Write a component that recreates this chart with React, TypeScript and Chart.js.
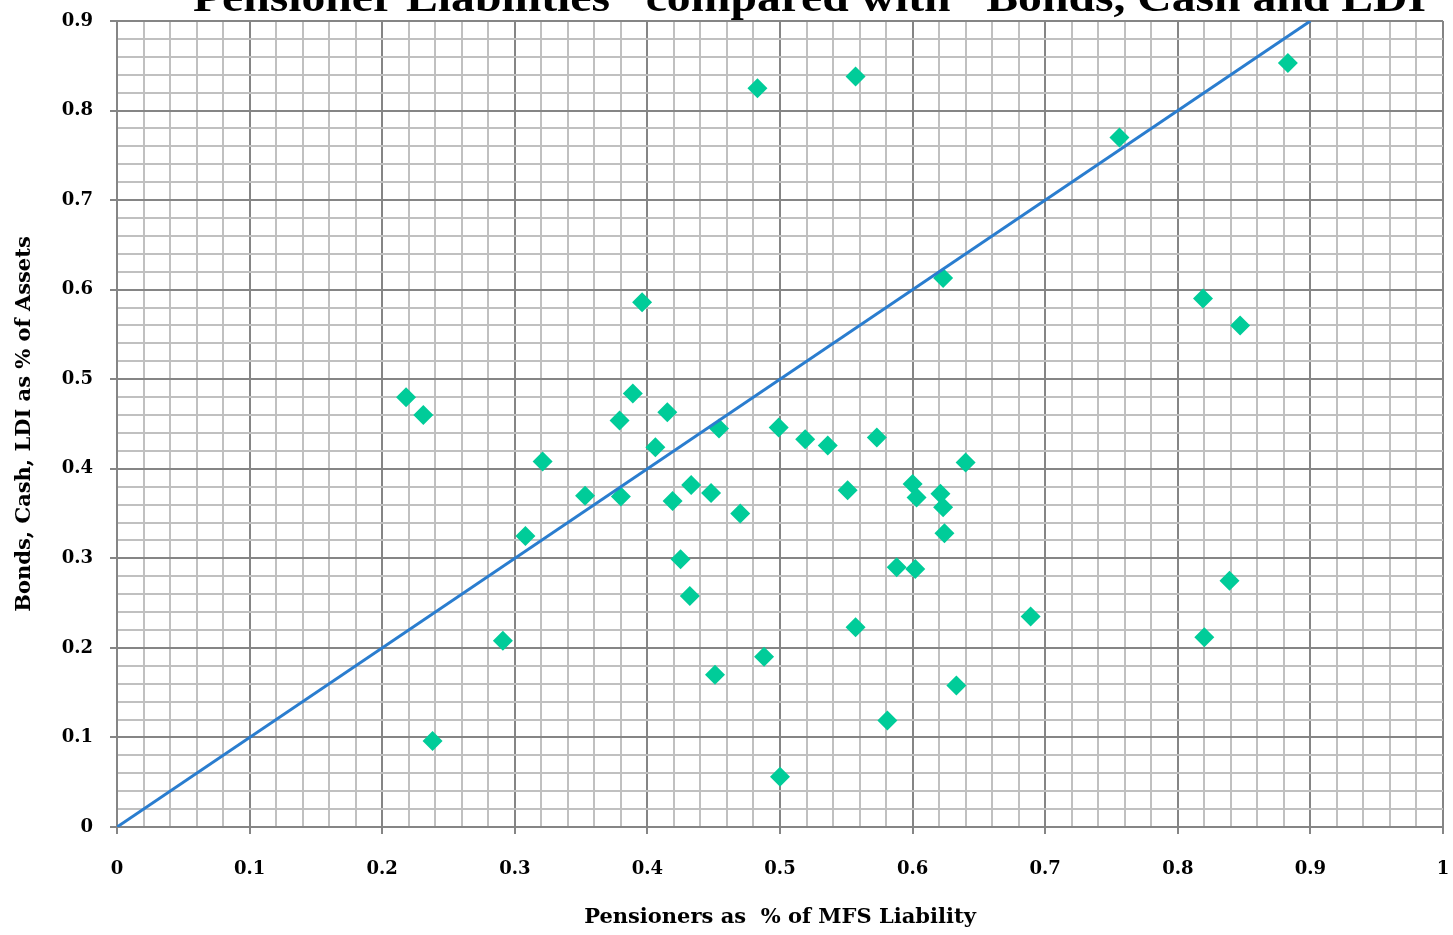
import React, { useEffect, useRef } from "react";
import { Chart, registerables } from "chart.js";

Chart.register(...registerables);

const titleText = "\u201CPensioner Liabilities\u201D compared with \u201CBonds, Cash and LDI\u201D";
const titleVisible = "Pensioner Liabilities\u201D compared with \u201CBonds, Cash and LDI";
const xAxisTitle = "Pensioners as  % of MFS Liability";
const yAxisTitle = "Bonds, Cash, LDI as % of Assets";

const pensionersPct = [
  0.483, 0.557, 0.883, 0.756, 0.396, 0.623, 0.819, 0.847, 0.218, 0.231,
  0.389, 0.379, 0.415, 0.406, 0.454, 0.499, 0.519, 0.536, 0.573, 0.321,
  0.353, 0.380, 0.433, 0.419, 0.448, 0.470, 0.551, 0.600, 0.603, 0.621,
  0.623, 0.640, 0.624, 0.308, 0.425, 0.588, 0.602, 0.432, 0.839, 0.689,
  0.557, 0.291, 0.820, 0.488, 0.451, 0.633, 0.581, 0.238, 0.500,
];
const bondsCashLdiPct = [
  0.825, 0.838, 0.853, 0.770, 0.586, 0.613, 0.590, 0.560, 0.480, 0.460,
  0.484, 0.454, 0.463, 0.424, 0.445, 0.446, 0.433, 0.426, 0.435, 0.408,
  0.370, 0.369, 0.382, 0.364, 0.373, 0.350, 0.376, 0.383, 0.368, 0.372,
  0.357, 0.407, 0.328, 0.325, 0.299, 0.290, 0.288, 0.258, 0.275, 0.235,
  0.223, 0.208, 0.212, 0.190, 0.170, 0.158, 0.119, 0.096, 0.056,
];
const lineX = [0, 0.9];
const lineY = [0, 0.9];

const isMajor = (v: number) => Math.abs(v * 10 - Math.round(v * 10)) < 1e-6;
const fmt = (v: number) => {
  const r = Math.round(v * 10) / 10;
  return r === 0 ? "0" : r === 1 ? "1" : r.toFixed(1);
};

const MAJOR = "#858585";
const MINOR = "#c0c0c0";
const SERIF = "'Liberation Serif', 'Times New Roman', serif";
const WIDE_SERIF = "'DejaVu Serif', serif";

export default function App() {
  const ref = useRef<HTMLCanvasElement | null>(null);
  useEffect(() => {
    document.body.style.margin = "0";
    const canvas = ref.current;
    if (!canvas) return;
    const titlePlugin = {
      id: "topTitle",
      afterDraw(chart: any) {
        const ctx = chart.ctx;
        ctx.save();
        ctx.font = `bold 40px ${SERIF}`;
        ctx.fillStyle = "#000";
        ctx.textAlign = "left";
        ctx.textBaseline = "alphabetic";
        const q = ctx.measureText("\u201C").width;
        const w = ctx.measureText(titleVisible).width;
        const sx = 1233 / w;
        ctx.translate(193, 11);
        ctx.scale(sx, 1);
        ctx.fillText(titleText, -q, 0);
        ctx.restore();
      },
    };
    const gridOpts = {
      color: (c: any) => (c.tick && isMajor(c.tick.value) ? MAJOR : MINOR),
      lineWidth: 2,
      tickColor: (c: any) => (c.tick && isMajor(c.tick.value) ? MAJOR : "rgba(0,0,0,0)"),
      tickLength: 7,
      drawTicks: true,
    };
    const tickFont = { family: WIDE_SERIF, size: 18, weight: "bold" as const };
    const zeroPad = (s: any) => {
      s.paddingLeft = 0;
      s.paddingRight = 0;
      s.paddingTop = 0;
      s.paddingBottom = 0;
    };
    const chart = new Chart(canvas, {
      type: "scatter",
      data: {
        datasets: [
          {
            type: "line",
            data: lineX.map((x, i) => ({ x, y: lineY[i] })),
            borderColor: "#2a7dcf",
            borderWidth: 3,
            pointRadius: 0,
            fill: false,
            order: 0,
          } as any,
          {
            type: "scatter",
            data: pensionersPct.map((x, i) => ({ x, y: bondsCashLdiPct[i] })),
            pointStyle: "rectRot",
            pointRadius: 10,
            backgroundColor: "#00cc99",
            borderColor: "#00cc99",
            borderWidth: 0,
            order: 1,
          },
        ],
      },
      options: {
        animation: false,
        responsive: false,
        devicePixelRatio: 1,
        layout: { padding: { top: 21, right: 10, left: 0, bottom: 0 } },
        plugins: { legend: { display: false }, tooltip: { enabled: false }, title: { display: false } },
        scales: {
          x: {
            type: "linear",
            min: 0,
            max: 1,
            grid: gridOpts as any,
            border: { display: true, color: MAJOR, width: 2 },
            ticks: {
              stepSize: 0.02,
              maxTicksLimit: 1000,
              autoSkip: false,
              maxRotation: 0,
              padding: 25,
              color: "#000",
              font: tickFont,
              callback: (v: any) => (isMajor(Number(v)) ? fmt(Number(v)) : ""),
            },
            title: {
              display: true,
              text: xAxisTitle,
              color: "#000",
              font: { family: WIDE_SERIF, size: 21, weight: "bold" },
              padding: { top: 0, bottom: 5 },
            },
            afterFit: (s: any) => {
              s.height = 108;
              zeroPad(s);
            },
          },
          y: {
            type: "linear",
            min: 0,
            max: 0.9,
            grid: gridOpts as any,
            border: { display: true, color: MAJOR, width: 2 },
            ticks: {
              stepSize: 0.02,
              maxTicksLimit: 1000,
              autoSkip: false,
              padding: 17,
              color: "#000",
              font: tickFont,
              callback: (v: any) => (isMajor(Number(v)) ? fmt(Number(v)) : ""),
            },
            title: {
              display: true,
              text: yAxisTitle,
              color: "#000",
              font: { family: WIDE_SERIF, size: 21, weight: "bold" },
              padding: { top: 12, bottom: 0 },
            },
            afterFit: (s: any) => {
              s.width = 117;
              zeroPad(s);
            },
          },
        },
      },
      plugins: [titlePlugin],
    });
    return () => chart.destroy();
  }, []);
  return (
    <div style={{ position: "fixed", left: 0, top: 0, width: 1453, height: 935, background: "#fff" }}>
      <canvas ref={ref} width={1453} height={935} style={{ width: 1453, height: 935, display: "block" }} />
    </div>
  );
}
